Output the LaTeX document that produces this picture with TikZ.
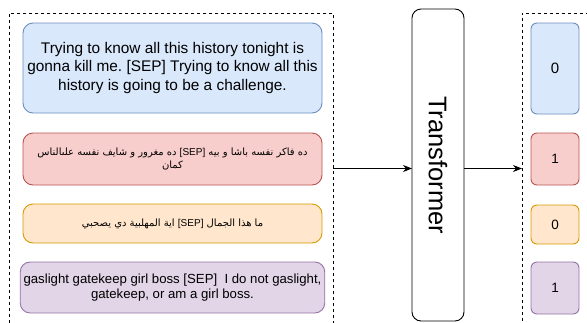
\documentclass[tikz,border=0pt]{standalone}
\usepackage{fontspec}
\setmainfont{Liberation Sans}
\newfontfamily\arabicfont[Script=Arabic]{DejaVu Sans}
\TeXXeTstate=1
\frenchspacing
\usetikzlibrary{arrows.meta, positioning}
\definecolor{pairblue}{HTML}{DAE8FC}
\definecolor{pairbluedraw}{HTML}{6C8EBF}
\definecolor{pairred}{HTML}{F8CECC}
\definecolor{pairreddraw}{HTML}{B85450}
\definecolor{pairorange}{HTML}{FFE6CC}
\definecolor{pairorangedraw}{HTML}{D79B00}
\definecolor{pairpurple}{HTML}{E1D5E7}
\definecolor{pairpurpledraw}{HTML}{9673A6}
\tikzset{
    sentbox/.style={draw, rounded corners=10pt, align=center, minimum width=299pt, outer sep=0pt, line width=0.9pt},
    labelbox/.style={draw, rounded corners=6pt, minimum width=48pt, outer sep=0pt, line width=0.9pt},
    dashframe/.style={draw, dash pattern=on 3pt off 3pt, line width=0.9pt, outer sep=0pt},
    tfbox/.style={draw, rounded corners=9pt, minimum width=52pt, minimum height=312pt, line width=0.9pt, outer sep=0pt},
    flowarrow/.style={-{Stealth[length=9pt, width=7pt]}, line width=0.9pt},
    blueclr/.style={fill=pairblue, draw=pairbluedraw},
    redclr/.style={fill=pairred, draw=pairreddraw},
    orangeclr/.style={fill=pairorange, draw=pairorangedraw},
    purpleclr/.style={fill=pairpurple, draw=pairpurpledraw}
}

\begin{document}
\begin{tikzpicture}[x=1pt, y=1pt]
  \useasboundingbox (0,0) rectangle (587,-322);
  \clip (0,0) rectangle (587,-322);
  % input sentence pairs
  \node[dashframe, minimum width=324pt, minimum height=311pt] (inframe) at (171,-168.5) {};
  \node[sentbox, blueclr, minimum height=90pt, font=\fontsize{15.4}{18.5}\selectfont] (sblue) at (172.5,-68)
        {Trying to know all this history tonight is\\ gonna kill me. [SEP] Trying to know all this\\ history is going to be a challenge.};
  \node[sentbox, redclr, minimum height=52pt, below=20pt of sblue, font=\arabicfont\fontsize{10}{13.5}\selectfont] (sred)
        {\beginR ده فاكر نفسه باشا و بيه \beginL{\normalfont[SEP]}\endL{} ده مغرور و شايف نفسه علىالناس\endR\\ \beginR كمان\endR};
  \node[sentbox, orangeclr, minimum height=39pt, below=19pt of sred, font=\arabicfont\fontsize{10}{13.5}\selectfont] (sorange)
        {\beginR ما هذا الجمال \beginL{\normalfont[SEP]}\endL{} اية المهلبية دي يصحبي\endR};
  \node[sentbox, purpleclr, minimum height=51pt, below=19pt of sorange, font=\fontsize{13.2}{15.8}\selectfont] (spurple)
        {gaslight gatekeep girl boss [SEP]\ \ I do not gaslight,\\ gatekeep, or am a girl boss.};
  % model
  \node[tfbox, font=\fontsize{25.5}{30}\selectfont] (tf) at (438,-165) {\rotatebox{-90}{Transformer}};
  % predicted labels
  \node[dashframe, minimum width=130pt, minimum height=311pt] (outframe) at (587,-168.5) {};
  \node[labelbox, blueclr, minimum height=91pt, font=\fontsize{15}{18}\selectfont] (lblue) at (555,-68.5) {0};
  \node[labelbox, redclr, minimum height=52pt, below=19pt of lblue, font=\fontsize{13.5}{16}\selectfont] (lred) {1};
  \node[labelbox, orangeclr, minimum height=39pt, below=20pt of lred, font=\fontsize{13.5}{16}\selectfont] (lorange) {0};
  \node[labelbox, purpleclr, minimum height=52pt, below=18pt of lorange, font=\fontsize{13.5}{16}\selectfont] (lpurple) {1};
  \draw[flowarrow] (inframe.east) -- (inframe.east -| tf.west);
  \draw[flowarrow] (tf.east |- outframe.west) -- (outframe.west);
\end{tikzpicture}
\end{document}
